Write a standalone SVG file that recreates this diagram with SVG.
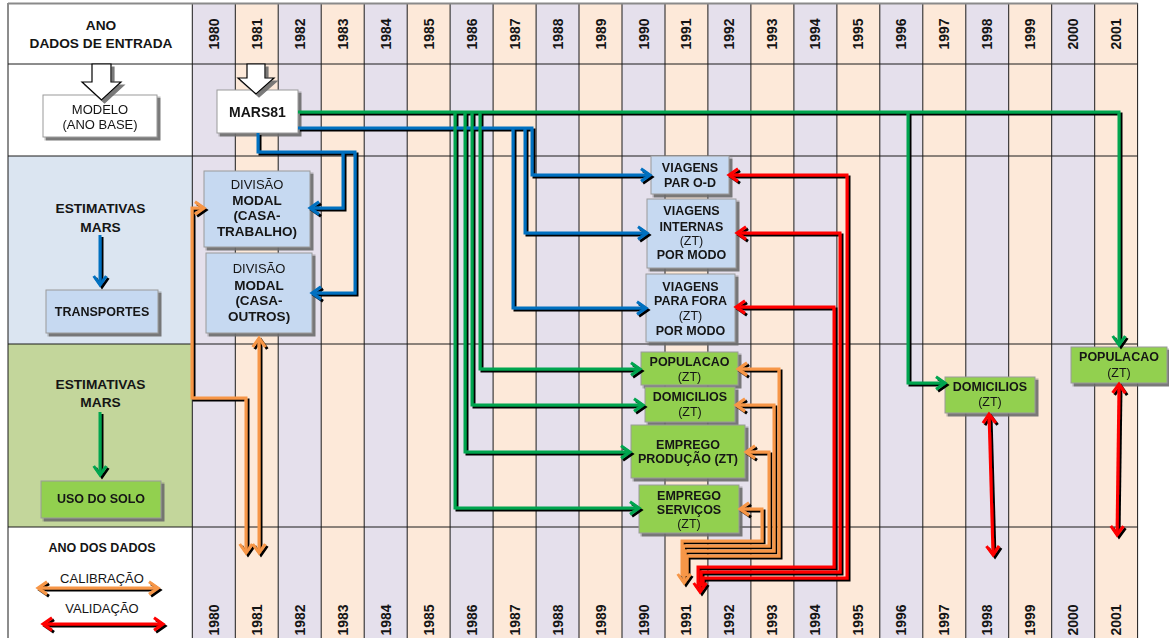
<svg xmlns="http://www.w3.org/2000/svg" width="1169" height="638" viewBox="0 0 1169 638">
<defs>
<style>
text{font-family:"Liberation Sans",Arial,sans-serif;fill:#151515;text-anchor:middle}
.yr{font-size:14px;font-weight:bold}
.lh{font-size:13.7px;font-weight:bold}
.bt{font-size:12.5px;font-weight:bold}
.bn{font-size:12.5px;font-weight:normal}
.dv{font-size:13.5px;font-weight:bold}
.rg{font-size:13px;font-weight:normal}
.lav{fill:#e5e0ec}
.pch{fill:#fde9d9}
.grid{stroke:#1a1a1a;stroke-width:1;fill:none}
.box{stroke:#9a9a9a;stroke-width:1}
.wb{fill:#ffffff}
.bb{fill:#c6d9f1}
.gb{fill:#92d050}
.c{fill:none;stroke-width:3;stroke-linejoin:miter}
.blue{stroke:#0070c0}
.green{stroke:#00a550}
.orange{stroke:#f79646}
.red{stroke:#ff0000}
.bl{marker-end:url(#mBlue)}
.gr{marker-end:url(#mGreen)}
.blk{fill:#fff;stroke:#000;stroke-width:1.2}
</style>
<filter id="ls" filterUnits="userSpaceOnUse" x="0" y="0" width="1169" height="638">
<feOffset in="SourceAlpha" dx="1.5" dy="1.5" result="o"/>
<feMerge><feMergeNode in="o"/><feMergeNode in="SourceGraphic"/></feMerge>
</filter>
<filter id="bs" filterUnits="userSpaceOnUse" x="0" y="0" width="1169" height="638">
<feOffset in="SourceAlpha" dx="2.5" dy="2.5"/>
<feColorMatrix values="0 0 0 0 0.15 0 0 0 0 0.15 0 0 0 0 0.15 0 0 0 0.9 0" result="o"/>
<feMerge><feMergeNode in="o"/><feMergeNode in="SourceGraphic"/></feMerge>
</filter>
<marker id="mBlue" viewBox="-4 -3 5.5 6" refX="0" refY="0" markerWidth="5.5" markerHeight="6" markerUnits="strokeWidth" orient="auto-start-reverse"><path d="M-3,-2.1 L0,0 L-3,2.1" fill="none" stroke="#0070c0" stroke-width="1"/></marker>
<marker id="mGreen" viewBox="-4 -3 5.5 6" refX="0" refY="0" markerWidth="5.5" markerHeight="6" markerUnits="strokeWidth" orient="auto-start-reverse"><path d="M-3,-2.1 L0,0 L-3,2.1" fill="none" stroke="#00a550" stroke-width="1"/></marker>
<marker id="mOrange" viewBox="-4 -3 5.5 6" refX="0" refY="0" markerWidth="5.5" markerHeight="6" markerUnits="strokeWidth" orient="auto-start-reverse"><path d="M-3,-2.1 L0,0 L-3,2.1" fill="none" stroke="#f79646" stroke-width="1"/></marker>
<marker id="mRed" viewBox="-4 -3 5.5 6" refX="0" refY="0" markerWidth="5.5" markerHeight="6" markerUnits="strokeWidth" orient="auto-start-reverse"><path d="M-3,-2.1 L0,0 L-3,2.1" fill="none" stroke="#ff0000" stroke-width="1"/></marker>
</defs>

<g id="background">
<rect x="0" y="0" width="1169" height="638" fill="#ffffff"/>
<rect x="8" y="156" width="184.3" height="188" fill="#dbe5f1"/>
<rect x="8" y="344" width="184.3" height="183" fill="#c3d69b"/>
<rect class="lav" x="192.3" y="3" width="42.97" height="635"/>
<rect class="pch" x="235.3" y="3" width="42.97" height="635"/>
<rect class="lav" x="278.2" y="3" width="42.97" height="635"/>
<rect class="pch" x="321.2" y="3" width="42.97" height="635"/>
<rect class="lav" x="364.2" y="3" width="42.97" height="635"/>
<rect class="pch" x="407.2" y="3" width="42.97" height="635"/>
<rect class="lav" x="450.1" y="3" width="42.97" height="635"/>
<rect class="pch" x="493.1" y="3" width="42.97" height="635"/>
<rect class="lav" x="536.1" y="3" width="42.97" height="635"/>
<rect class="pch" x="579.0" y="3" width="42.97" height="635"/>
<rect class="lav" x="622.0" y="3" width="42.97" height="635"/>
<rect class="pch" x="665.0" y="3" width="42.97" height="635"/>
<rect class="lav" x="707.9" y="3" width="42.97" height="635"/>
<rect class="pch" x="750.9" y="3" width="42.97" height="635"/>
<rect class="lav" x="793.9" y="3" width="42.97" height="635"/>
<rect class="pch" x="836.9" y="3" width="42.97" height="635"/>
<rect class="lav" x="879.8" y="3" width="42.97" height="635"/>
<rect class="pch" x="922.8" y="3" width="42.97" height="635"/>
<rect class="lav" x="965.8" y="3" width="42.97" height="635"/>
<rect class="pch" x="1008.7" y="3" width="42.97" height="635"/>
<rect class="lav" x="1051.7" y="3" width="42.97" height="635"/>
<rect class="pch" x="1094.7" y="3" width="42.97" height="635"/>
</g>

<g id="grid">
<path class="grid" d="M8,3 V638 M192.3,3 V638 M235.3,3 V638 M278.2,3 V638 M321.2,3 V638 M364.2,3 V638 M407.2,3 V638 M450.1,3 V638 M493.1,3 V638 M536.1,3 V638 M579,3 V638 M622,3 V638 M665,3 V638 M707.9,3 V638 M750.9,3 V638 M793.9,3 V638 M836.9,3 V638 M879.8,3 V638 M922.8,3 V638 M965.8,3 V638 M1008.7,3 V638 M1051.7,3 V638 M1094.7,3 V638 M1137.6,3 V638"/>
<path class="grid" stroke-width="1.3" d="M8,64 H1137.6 M8,156 H1137.6 M8,344 H1137.6 M8,527 H1137.6"/>
<path d="M8,3.5 H1137.6" stroke="#8a8a8a" stroke-width="2" fill="none"/>
</g>

<g id="years-top">
<text class="yr" transform="translate(213.8,34) rotate(-90)" dy="5">1980</text>
<text class="yr" transform="translate(256.8,34) rotate(-90)" dy="5">1981</text>
<text class="yr" transform="translate(299.7,34) rotate(-90)" dy="5">1982</text>
<text class="yr" transform="translate(342.7,34) rotate(-90)" dy="5">1983</text>
<text class="yr" transform="translate(385.7,34) rotate(-90)" dy="5">1984</text>
<text class="yr" transform="translate(428.6,34) rotate(-90)" dy="5">1985</text>
<text class="yr" transform="translate(471.6,34) rotate(-90)" dy="5">1986</text>
<text class="yr" transform="translate(514.6,34) rotate(-90)" dy="5">1987</text>
<text class="yr" transform="translate(557.5,34) rotate(-90)" dy="5">1988</text>
<text class="yr" transform="translate(600.5,34) rotate(-90)" dy="5">1989</text>
<text class="yr" transform="translate(643.5,34) rotate(-90)" dy="5">1990</text>
<text class="yr" transform="translate(686.4,34) rotate(-90)" dy="5">1991</text>
<text class="yr" transform="translate(729.4,34) rotate(-90)" dy="5">1992</text>
<text class="yr" transform="translate(772.4,34) rotate(-90)" dy="5">1993</text>
<text class="yr" transform="translate(815.3,34) rotate(-90)" dy="5">1994</text>
<text class="yr" transform="translate(858.3,34) rotate(-90)" dy="5">1995</text>
<text class="yr" transform="translate(901.3,34) rotate(-90)" dy="5">1996</text>
<text class="yr" transform="translate(944.2,34) rotate(-90)" dy="5">1997</text>
<text class="yr" transform="translate(987.2,34) rotate(-90)" dy="5">1998</text>
<text class="yr" transform="translate(1030.2,34) rotate(-90)" dy="5">1999</text>
<text class="yr" transform="translate(1073.1,34) rotate(-90)" dy="5">2000</text>
<text class="yr" transform="translate(1116.1,34) rotate(-90)" dy="5">2001</text>
</g>

<g id="years-bottom">
<text class="yr" transform="translate(213.8,620) rotate(-90)" dy="5">1980</text>
<text class="yr" transform="translate(256.8,620) rotate(-90)" dy="5">1981</text>
<text class="yr" transform="translate(299.7,620) rotate(-90)" dy="5">1982</text>
<text class="yr" transform="translate(342.7,620) rotate(-90)" dy="5">1983</text>
<text class="yr" transform="translate(385.7,620) rotate(-90)" dy="5">1984</text>
<text class="yr" transform="translate(428.6,620) rotate(-90)" dy="5">1985</text>
<text class="yr" transform="translate(471.6,620) rotate(-90)" dy="5">1986</text>
<text class="yr" transform="translate(514.6,620) rotate(-90)" dy="5">1987</text>
<text class="yr" transform="translate(557.5,620) rotate(-90)" dy="5">1988</text>
<text class="yr" transform="translate(600.5,620) rotate(-90)" dy="5">1989</text>
<text class="yr" transform="translate(643.5,620) rotate(-90)" dy="5">1990</text>
<text class="yr" transform="translate(686.4,620) rotate(-90)" dy="5">1991</text>
<text class="yr" transform="translate(729.4,620) rotate(-90)" dy="5">1992</text>
<text class="yr" transform="translate(772.4,620) rotate(-90)" dy="5">1993</text>
<text class="yr" transform="translate(815.3,620) rotate(-90)" dy="5">1994</text>
<text class="yr" transform="translate(858.3,620) rotate(-90)" dy="5">1995</text>
<text class="yr" transform="translate(901.3,620) rotate(-90)" dy="5">1996</text>
<text class="yr" transform="translate(944.2,620) rotate(-90)" dy="5">1997</text>
<text class="yr" transform="translate(987.2,620) rotate(-90)" dy="5">1998</text>
<text class="yr" transform="translate(1030.2,620) rotate(-90)" dy="5">1999</text>
<text class="yr" transform="translate(1073.1,620) rotate(-90)" dy="5">2000</text>
<text class="yr" transform="translate(1116.1,620) rotate(-90)" dy="5">2001</text>
</g>

<g id="row-labels">
<text class="lh" x="101" y="30">ANO</text>
<text class="lh" x="101" y="48">DADOS DE ENTRADA</text>
<text class="lh" x="100.5" y="213.3">ESTIMATIVAS</text>
<text class="lh" x="100.5" y="231.7">MARS</text>
<text class="lh" x="100.5" y="389.3">ESTIMATIVAS</text>
<text class="lh" x="100.5" y="406.7">MARS</text>
<text class="bt" x="102" y="551.8">ANO DOS DADOS</text>
<text class="rg" x="102" y="582.5">CALIBRAÇÃO</text>
<text class="rg" x="102" y="612.5">VALIDAÇÃO</text>
</g>

<g id="node-modelo" filter="url(#bs)">
<rect class="box wb" x="43" y="95" width="114" height="42"/>
<text class="rg" x="100" y="113.5">MODELO</text>
<text class="rg" x="100" y="128.5">(ANO BASE)</text>
</g>
<g id="node-mars81" filter="url(#bs)">
<rect class="box wb" x="217" y="90" width="81" height="43"/>
<text class="yr" x="257.5" y="117">MARS81</text>
</g>
<g id="node-transportes" filter="url(#bs)">
<rect class="box bb" x="46" y="290" width="112" height="43"/>
<text class="bt" x="102" y="315.5">TRANSPORTES</text>
</g>
<g id="node-uso-solo" filter="url(#bs)">
<rect class="box gb" x="41" y="481" width="120" height="37"/>
<text class="bt" x="101" y="502.5">USO DO SOLO</text>
</g>
<g id="node-div-trabalho" filter="url(#bs)">
<rect class="box bb" x="204" y="171" width="106" height="76"/>
<text class="rg" x="257" y="189">DIVISÃO</text>
<text class="dv" x="257" y="204.5">MODAL</text>
<text class="dv" x="257" y="219.5">(CASA-</text>
<text class="dv" x="257" y="235.5">TRABALHO)</text>
</g>
<g id="node-div-outros" filter="url(#bs)">
<rect class="box bb" x="206" y="253" width="106" height="80"/>
<text class="rg" x="259" y="273">DIVISÃO</text>
<text class="dv" x="259" y="289.5">MODAL</text>
<text class="dv" x="259" y="305.2">(CASA-</text>
<text class="dv" x="259" y="321.2">OUTROS)</text>
</g>
<g id="node-viagens-od" filter="url(#bs)">
<rect class="box bb" x="651" y="156" width="78" height="38"/>
<text class="bt" x="690" y="171.8">VIAGENS</text>
<text class="bt" x="690" y="186.8">PAR O-D</text>
</g>
<g id="node-viagens-internas" filter="url(#bs)">
<rect class="box bb" x="647" y="199" width="89" height="69"/>
<text class="bt" x="691.5" y="215.2">VIAGENS</text>
<text class="bt" x="691.5" y="230.5">INTERNAS</text>
<text class="bn" x="691.5" y="244.5">(ZT)</text>
<text class="bt" x="691.5" y="258.8">POR MODO</text>
</g>
<g id="node-viagens-fora" filter="url(#bs)">
<rect class="box bb" x="646" y="274" width="89" height="68"/>
<text class="bt" x="690.5" y="290.5">VIAGENS</text>
<text class="bt" x="690.5" y="305.2">PARA FORA</text>
<text class="bn" x="690.5" y="319.5">(ZT)</text>
<text class="bt" x="690.5" y="334.5">POR MODO</text>
</g>
<g id="node-populacao" filter="url(#bs)">
<rect class="box gb" x="641" y="352" width="97" height="33"/>
<text class="bt" x="689.5" y="366.2">POPULACAO</text>
<text class="bn" x="689.5" y="381.2">(ZT)</text>
</g>
<g id="node-domicilios" filter="url(#bs)">
<rect class="box gb" x="645" y="387" width="90" height="35"/>
<text class="bt" x="690" y="401.2">DOMICILIOS</text>
<text class="bn" x="690" y="416.2">(ZT)</text>
</g>
<g id="node-emprego-producao" filter="url(#bs)">
<rect class="box gb" x="631" y="425" width="114" height="53"/>
<text class="bt" x="688" y="448.5">EMPREGO</text>
<text class="bt" x="688" y="462.5">PRODUÇÃO (ZT)</text>
</g>
<g id="node-emprego-servicos" filter="url(#bs)">
<rect class="box gb" x="639" y="485" width="100" height="48"/>
<text class="bt" x="689" y="499.5">EMPREGO</text>
<text class="bt" x="689" y="513.5">SERVIÇOS</text>
<text class="bn" x="689" y="527.5">(ZT)</text>
</g>
<g id="node-domicilios-1998" filter="url(#bs)">
<rect class="box gb" x="945" y="377" width="90" height="36"/>
<text class="bt" x="990" y="391.2">DOMICILIOS</text>
<text class="bn" x="990" y="406.2">(ZT)</text>
</g>
<g id="node-populacao-2001" filter="url(#bs)">
<rect class="box gb" x="1071" y="347" width="96" height="36"/>
<text class="bt" x="1119" y="361.2">POPULACAO</text>
<text class="bn" x="1119" y="377.2">(ZT)</text>
</g>

<g id="input-arrows" filter="url(#bs)">
<polygon class="blk" points="92,64 111,64 111,82 121,82 101.5,100 82,82 92,82"/>
<polygon class="blk" points="247,64 265,64 265,78 274,78 256,94 238,78 247,78"/>
</g>

<g id="connectors" filter="url(#ls)">
<path class="c blue" d="M298,128 H532 V175 H650" marker-end="url(#mBlue)"/>
<path class="c blue" d="M525,128 V233 H647" marker-end="url(#mBlue)"/>
<path class="c blue" d="M513,128 V308 H646" marker-end="url(#mBlue)"/>
<path class="c blue" d="M258,133 V152 H355 V293 H312" marker-end="url(#mBlue)"/>
<path class="c blue" d="M343,152 V208 H310" marker-end="url(#mBlue)"/>
<path class="c green" d="M298,112 H1119 V345" marker-end="url(#mGreen)"/>
<path class="c green" d="M908,112 V383 H945" marker-end="url(#mGreen)"/>
<path class="c green" d="M480,112 V369 H640" marker-end="url(#mGreen)"/>
<path class="c green" d="M472,112 V405 H643" marker-end="url(#mGreen)"/>
<path class="c green" d="M465,112 V452 H630" marker-end="url(#mGreen)"/>
<path class="c green" d="M455,112 V508 H639" marker-end="url(#mGreen)"/>
<path class="c blue" stroke-width="3.5" d="M100,235 V285" marker-end="url(#mBlue)"/>
<path class="c green" stroke-width="3.5" d="M100,412 V475" marker-end="url(#mGreen)"/>
<path class="c orange" d="M246,553 V398 H192 V208 H204" marker-start="url(#mOrange)" marker-end="url(#mOrange)"/>
<path class="c orange" d="M259,338 V553" marker-start="url(#mOrange)" marker-end="url(#mOrange)"/>
<path class="c orange" d="M738,369 H779 V556 H687 V576" marker-start="url(#mOrange)"/>
<path class="c orange" d="M736,405 H774 V551 H685 V576" marker-start="url(#mOrange)"/>
<path class="c orange" d="M746,452 H769 V546 H683.5 V576" marker-start="url(#mOrange)"/>
<path class="c orange" d="M740,509 H762 V541 H682 V576" marker-start="url(#mOrange)"/>
<path class="c orange" d="M684,572 V583" marker-end="url(#mOrange)"/>
<path class="c red" d="M729,175 H847 V578 H703 V586" marker-start="url(#mRed)"/>
<path class="c red" d="M737,233 H840 V572 H701 V586" marker-start="url(#mRed)"/>
<path class="c red" d="M736,307 H834 V567 H698 V586" marker-start="url(#mRed)"/>
<path class="c red" d="M700,582 V592" marker-end="url(#mRed)"/>
<path class="c red" d="M989,414 L993,555" marker-start="url(#mRed)" marker-end="url(#mRed)"/>
<path class="c red" d="M1119,384 L1117,535" marker-start="url(#mRed)" marker-end="url(#mRed)"/>
<path class="c orange" stroke-width="3.5" d="M38,588 H158" marker-start="url(#mOrange)" marker-end="url(#mOrange)"/>
<path class="c red" stroke-width="3.5" d="M43,624 H163" marker-start="url(#mRed)" marker-end="url(#mRed)"/>
</g>
</svg>
